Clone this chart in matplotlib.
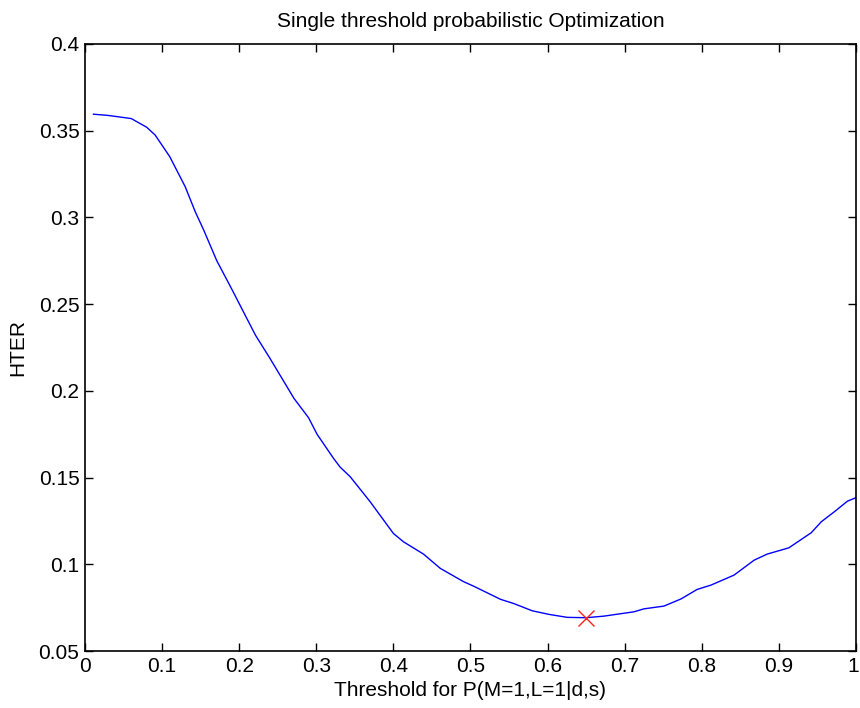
import matplotlib.pyplot as plt
import matplotlib.transforms as mtransforms
import numpy as np

# values
threshold = [0.011, 0.03, 0.06, 0.08, 0.091, 0.110, 0.130, 0.143, 0.154, 0.171,
             0.190, 0.221, 0.240, 0.271, 0.290, 0.301, 0.3225, 0.331, 0.344,
             0.370, 0.400, 0.413, 0.439, 0.461, 0.491, 0.504, 0.539, 0.556,
             0.580, 0.602, 0.6255, 0.650, 0.673, 0.712, 0.725, 0.751, 0.773,
             0.794, 0.812, 0.842, 0.868, 0.885, 0.903, 0.913, 0.942, 0.955,
             0.972, 0.989, 1.0]
hter = [0.3595, 0.3588, 0.357, 0.352, 0.3475, 0.335, 0.3177, 0.3033, 0.2927, 0.2750,
        0.259, 0.2322, 0.2187, 0.1957, 0.1845, 0.1750, 0.161, 0.156, 0.1505,
        0.136, 0.1178, 0.113, 0.1059, 0.0976, 0.090, 0.0874, 0.0798, 0.0774,
        0.0732, 0.0711, 0.0694, 0.0692, 0.0701, 0.0726, 0.0743, 0.0759, 0.080,
        0.0855, 0.088, 0.0938, 0.1024, 0.1059, 0.1082, 0.1095, 0.1182, 0.1245,
        0.1303, 0.1364, 0.1384]
best_threshold = 0.65
best_hter = 0.0692

plt.rcParams['font.family'] = ['Liberation Sans', 'DejaVu Sans']

fig = plt.figure(figsize=(8.6, 7.08), dpi=100)
ax = fig.add_axes([0.0988, 0.0805, 0.8965, 0.8574])
ax.plot(threshold, hter, color='blue', linewidth=1.0)
ax.plot(best_threshold, best_hter, 'x', color='#ff2020', markersize=12, markeredgewidth=1.0)

ax.set_xlim(0, 1)
ax.set_ylim(0.05, 0.4)
ax.set_xticks(np.arange(0, 1.01, 0.1))
ax.set_xticklabels(['0', '0.1', '0.2', '0.3', '0.4', '0.5', '0.6', '0.7', '0.8', '0.9', '1'])
ax.set_yticks(np.arange(0.05, 0.401, 0.05))
ax.set_yticklabels(['0.05', '0.1', '0.15', '0.2', '0.25', '0.3', '0.35', '0.4'])
ax.tick_params(direction='in', top=True, right=True, length=6, width=1, labelsize=15)
ax.tick_params(axis='x', pad=4)
ax.tick_params(axis='y', pad=4)
for s in ax.spines.values():
    s.set_linewidth(1.2)

# last x label sits at the figure edge; nudge it in a little so it is not clipped
last = ax.get_xticklabels()[-1]
last.set_transform(last.get_transform() + mtransforms.ScaledTranslation(-3 / 100, 0, fig.dpi_scale_trans))

ax.set_xlabel('Threshold for P(M=1,L=1|d,s)', fontsize=15, labelpad=4)
ax.set_ylabel('HTER', fontsize=15, labelpad=8)
ax.set_title('Single threshold probabilistic Optimization', fontsize=15, pad=12)

fig.savefig('out.png', dpi=100)
